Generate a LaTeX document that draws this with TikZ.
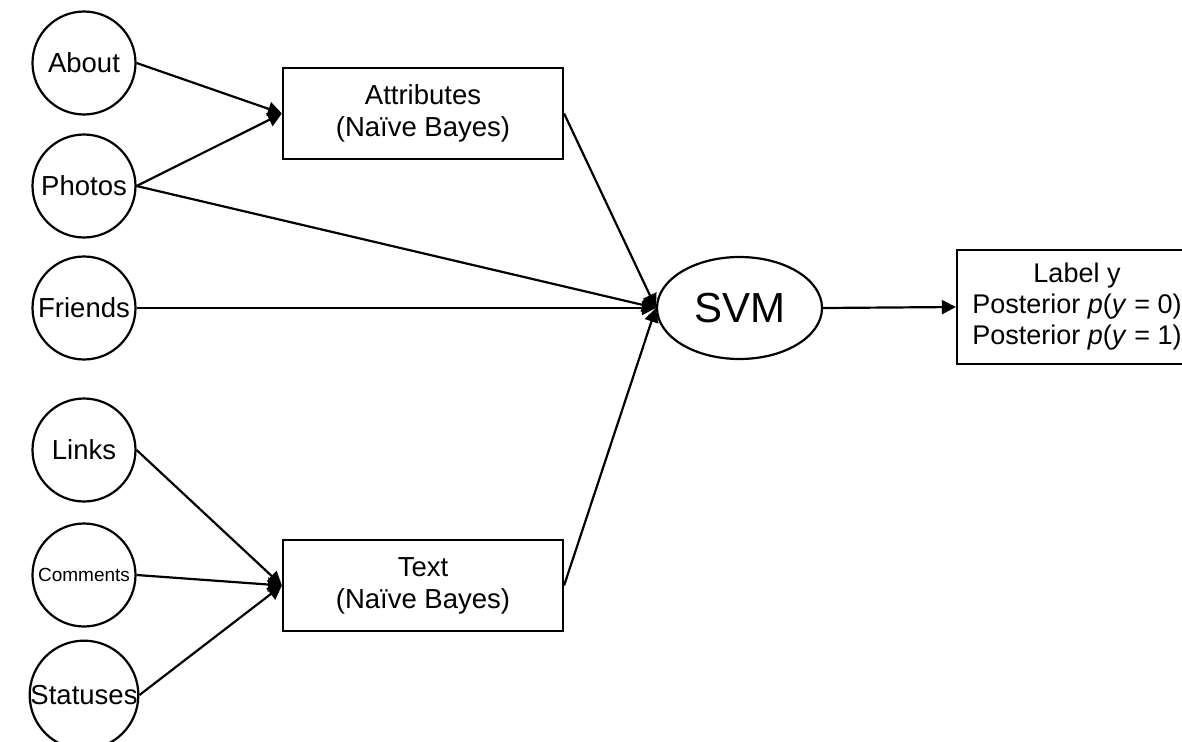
\documentclass[tikz,border=0pt]{standalone}
\usepackage{fontspec}
\setmainfont{Liberation Sans}
\usetikzlibrary{arrows.meta,shapes.geometric}
\begin{document}
\begin{tikzpicture}[x=1pt,y=-1pt,
  lw/.style={line width=2.2pt},
  feat/.style={circle,draw,lw,minimum size=103pt,inner sep=0pt,font=\fontsize{27.5}{32}\selectfont},
  nbbox/.style={rectangle,draw,lw,minimum width=280pt,minimum height=91pt,align=center,font=\fontsize{27.5}{32}\selectfont},
  conn/.style={lw,-{Triangle[length=14pt,width=14pt]}}]
\useasboundingbox (0,0) rectangle (1182,741);
\node[feat] (about) at (84,63) {About};
\node[feat] (photos) at (84,186) {Photos};
\node[feat] (friends) at (84,308) {Friends};
\node[feat] (links) at (84,450) {Links};
\node[feat,font=\fontsize{19}{22}\selectfont] (comments) at (84,575) {Comments};
\node[feat] (statuses) at (84,695) {Statuses};
\node[nbbox] (attr) at (423,113.5) {Attributes\\(Naïve Bayes)};
\node[nbbox] (text) at (423,585.5) {Text\\(Naïve Bayes)};
\node[ellipse,draw,lw,minimum width=165pt,minimum height=102pt,inner sep=0pt,font=\fontsize{42}{48}\selectfont] (svm) at (739.5,308) {SVM};
\node[rectangle,draw,lw,minimum width=240pt,minimum height=114pt,align=center,font=\fontsize{27}{31}\selectfont] (label) at (1077,307) {Label y\\Posterior \textit{p}(\textit{y} = 0)\\Posterior \textit{p}(\textit{y} = 1)};
\draw[conn] (about.east) -- (attr.west);
\draw[conn] (photos.east) -- (attr.west);
\draw[conn] (photos.east) -- (svm.west);
\draw[conn] (friends.east) -- (svm.west);
\draw[conn] (links.east) -- (text.west);
\draw[conn] (comments.east) -- (text.west);
\draw[conn] (statuses.east) -- (text.west);
\draw[conn] (attr.east) -- (svm.west);
\draw[conn] (text.east) -- (svm.west);
\draw[conn] (svm.east) -- (label.west);
\end{tikzpicture}
\end{document}
